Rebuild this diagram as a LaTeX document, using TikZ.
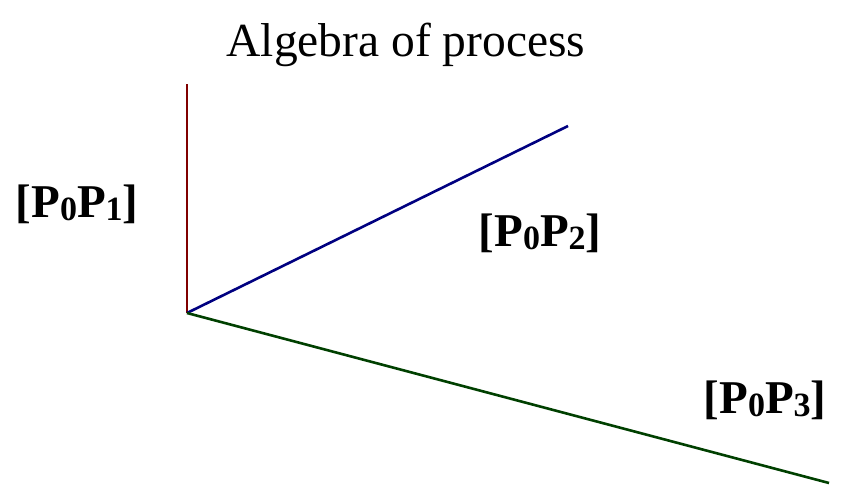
\documentclass[tikz,border=0pt]{standalone}
\usepackage{fontspec}
\setmainfont{Liberation Serif}
\definecolor{axred}{RGB}{128,0,0}
\definecolor{axblue}{RGB}{0,0,128}
\definecolor{axgreen}{RGB}{0,64,0}
\newcommand{\lowidx}[1]{\raisebox{-3pt}{\fontsize{34}{36}\selectfont #1}}
\tikzset{
  axis/.style={line width=2.6pt},
  lab/.style={font=\fontsize{47}{50}\selectfont\bfseries, inner sep=0pt}
}
\begin{document}
\begin{tikzpicture}[x=1pt, y=-1pt]
    \useasboundingbox (0,0) rectangle (842,486);
    % title
    \node[font=\fontsize{47.5}{50}\selectfont, inner sep=0pt] (title) at (406,45) {Algebra of process};

    % origin and end points
    \coordinate (O) at (187,313);
    \coordinate (E1) at (187,84);
    \coordinate (E2) at (568,126);
    \coordinate (E3) at (829,483);

    % three axes
    \draw[axis, axred] (O) -- (E1);
    \draw[axis, axblue] (O) -- (E2);
    \draw[axis, axgreen] (O) -- (E3);

    % labels
    \node[lab] (p1) at (77,204) {[P\lowidx{0}P\lowidx{1}]};
    \node[lab] (p2) at (540,233) {[P\lowidx{0}P\lowidx{2}]};
    \node[lab] (p3) at (765,400) {[P\lowidx{0}P\lowidx{3}]};
\end{tikzpicture}
\end{document}
